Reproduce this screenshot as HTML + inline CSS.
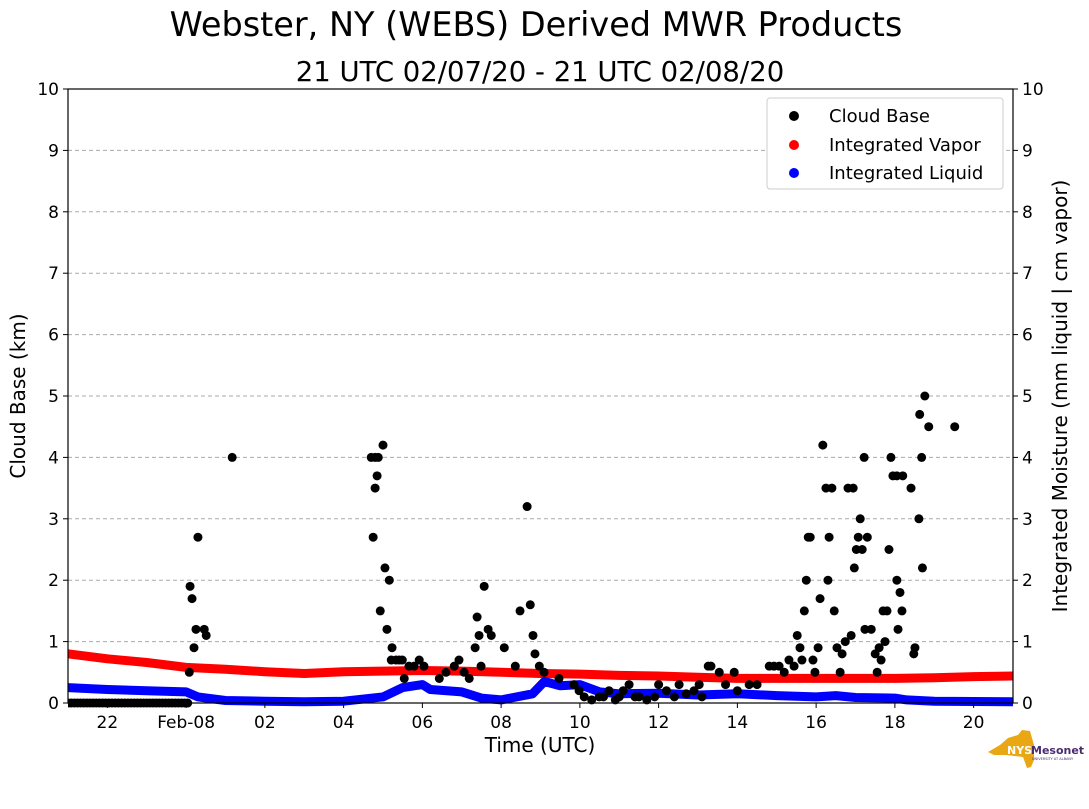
<!DOCTYPE html>
<html><head><meta charset="utf-8">
<style>
body{margin:0;background:#fff;}
svg text{font-family:"DejaVu Sans","Liberation Sans",sans-serif;}
</style></head>
<body>
<svg id="chart" width="1089" height="804" viewBox="0 0 1089 804" xmlns="http://www.w3.org/2000/svg">
<defs><clipPath id="plotclip"><rect x="68" y="89" width="945" height="620"/></clipPath></defs>
<text x="536" y="36" font-size="33.5" text-anchor="middle">Webster, NY (WEBS) Derived MWR Products</text>
<text x="540" y="81" font-size="27.5" text-anchor="middle">21 UTC 02/07/20 - 21 UTC 02/08/20</text>
<g id="grid"></g>
<g id="marks" clip-path="url(#plotclip)"></g>
<rect x="68" y="89" width="945" height="614" fill="none" stroke="#000" stroke-width="1.2"/>
<g id="axes"></g>
<text x="0" y="0" transform="translate(25,396) rotate(-90)" font-size="20" text-anchor="middle">Cloud Base (km)</text>
<text x="0" y="0" transform="translate(1067,396) rotate(-90)" font-size="20" text-anchor="middle">Integrated Moisture (mm liquid | cm vapor)</text>
<text x="540" y="752" font-size="20" text-anchor="middle">Time (UTC)</text>
<g>
<rect x="767" y="98" width="236" height="91" rx="3" fill="#fff" stroke="#ccc"/>
<circle cx="794" cy="116" r="5" fill="#000"/>
<text x="829" y="122" font-size="18">Cloud Base</text>
<circle cx="794" cy="145" r="5" fill="#f00"/>
<text x="829" y="151" font-size="18">Integrated Vapor</text>
<circle cx="794" cy="173" r="5" fill="#00f"/>
<text x="829" y="179" font-size="18">Integrated Liquid</text>
</g>
<g>
<path d="M988 752 L1000 745 L1008 738 L1018 735 L1022 730 L1030 731 L1034 745 L1034 760 L1031 767 L1027 768 L1023 757 L1006 755 L994 755 Z" fill="#e8a713"/>
<text x="1007" y="754" font-size="11" font-weight="bold" fill="#fff" font-family="Liberation Sans">NYS</text>
<text x="1031" y="754" font-size="11" font-weight="bold" fill="#4b2c6e" font-family="Liberation Sans">Mesonet</text>
<text x="1032" y="760" font-size="3.5" fill="#4b2c6e">UNIVERSITY AT ALBANY</text>
</g>
</svg>
<script>
// times: hours relative to 00 UTC 02/08 (-3 = 21 UTC 02/07)
const xTickHours=[-2,0,2,4,6,8,10,12,14,16,18,20];
const xTickLabels=["22","Feb-08","02","04","06","08","10","12","14","16","18","20"];
const yTicks=[0,1,2,3,4,5,6,7,8,9,10];
const zeroTimes=[-3,-2.92,-2.84,-2.76,-2.68,-2.6,-2.52,-2.44,-2.36,-2.28,-2.2,-2.12,-2.04,-1.96,-1.88,-1.8,-1.72,-1.64,-1.56,-1.48,-1.4,-1.32,-1.24,-1.16,-1.08,-1.0,-0.92,-0.84,-0.76,-0.68,-0.6,-0.52,-0.44,-0.36,-0.28,-0.2,-0.12,-0.04,0.04];
const zeroBase=zeroTimes.map(()=>0);
const cloudTimes=[0.10,0.15,0.20,0.25,0.30,0.08,0.46,0.51,1.17,4.70,4.80,4.88,4.75,4.80,4.85,4.93,5.00,5.05,5.10,5.16,5.23,5.21,5.33,5.41,5.49,5.54,5.66,5.79,5.92,6.04,
6.43,6.60,6.81,6.93,7.06,7.19,7.34,7.39,7.44,7.49,7.57,7.67,7.75,8.08,8.36,8.48,8.66,8.74,8.81,8.86,8.97,9.09,9.47,9.85,9.98,10.11,10.49,10.74,11.0,11.25,11.5,12.0,12.52,13.03,13.26,13.33,13.54,13.92,14.3,
10.3,10.6,10.9,11.1,11.4,11.7,11.9,12.2,12.4,12.7,12.9,13.1,13.7,14.0,14.5,
14.81,14.93,15.06,15.19,15.31,15.44,15.52,15.59,15.64,15.70,15.75,15.80,15.85,15.92,15.97,16.05,16.10,16.17,16.25,16.30,16.33,16.40,16.46,16.53,16.61,16.66,16.74,16.81,16.89,16.94,16.97,17.02,17.07,17.12,17.17,17.22,17.24,17.30,17.40,17.50,17.55,17.60,17.65,17.70,17.75,17.80,17.85,17.90,17.95,18.05,18.05,18.08,18.13,18.18,18.20,18.41,18.48,18.51,18.61,18.63,18.68,18.70,18.76,18.86,19.52];
const cloudBase=[1.9,1.7,0.9,1.2,2.7,0.5,1.2,1.1,4.0,4.0,4.0,4.0,2.7,3.5,3.7,1.5,4.2,2.2,1.2,2.0,0.9,0.7,0.7,0.7,0.7,0.4,0.6,0.6,0.7,0.6,
0.4,0.5,0.6,0.7,0.5,0.4,0.9,1.4,1.1,0.6,1.9,1.2,1.1,0.9,0.6,1.5,3.2,1.6,1.1,0.8,0.6,0.5,0.4,0.3,0.2,0.1,0.1,0.2,0.1,0.3,0.1,0.3,0.3,0.3,0.6,0.6,0.5,0.5,0.3,
0.05,0.1,0.05,0.2,0.1,0.05,0.1,0.2,0.1,0.15,0.2,0.1,0.3,0.2,0.3,
0.6,0.6,0.6,0.5,0.7,0.6,1.1,0.9,0.7,1.5,2.0,2.7,2.7,0.7,0.5,0.9,1.7,4.2,3.5,2.0,2.7,3.5,1.5,0.9,0.5,0.8,1.0,3.5,1.1,3.5,2.2,2.5,2.7,3.0,2.5,4.0,1.2,2.7,1.2,0.8,0.5,0.9,0.7,1.5,1.0,1.5,2.5,4.0,3.7,3.7,2.0,1.2,1.8,1.5,3.7,3.5,0.8,0.9,3.0,4.7,4.0,2.2,5.0,4.5,4.5];
const vaporTimes=[-3,-2,-1,0,1,2,3,4,5,6,7,8,9,10,11,12,13,14,15,16,17,18,19,20,21];
const vapor=[0.80,0.72,0.66,0.58,0.55,0.51,0.48,0.51,0.52,0.53,0.52,0.50,0.48,0.47,0.45,0.44,0.42,0.40,0.40,0.40,0.40,0.40,0.41,0.43,0.44];
const liquidTimes=[-3,-2,-1,0,0.3,1,2,3,4,5,5.5,6,6.2,7,7.5,8,8.8,9.1,9.5,10,10.5,11,12,13,14,15,16,16.5,17,18,18.3,19,21];
const liquid=[0.25,0.22,0.20,0.18,0.10,0.04,0.03,0.02,0.03,0.10,0.25,0.30,0.22,0.18,0.08,0.05,0.15,0.35,0.28,0.30,0.18,0.15,0.16,0.13,0.15,0.12,0.10,0.12,0.09,0.08,0.05,0.03,0.02];

const NS="http://www.w3.org/2000/svg";
const X0=68,X1=1013,Y0=703,Y1=89;
const xs=h=>X0+(h+3)/24*(X1-X0);
const ys=v=>Y0-v/10*(Y0-Y1);
function mk(tag,attrs,parent){const e=document.createElementNS(NS,tag);for(const k in attrs)e.setAttribute(k,attrs[k]);parent.appendChild(e);return e;}
const grid=document.getElementById('grid'),axes=document.getElementById('axes'),marks=document.getElementById('marks');
yTicks.forEach(v=>{
  const y=ys(v);
  if(v>0&&v<10){const g=mk('line',{x1:X0,x2:X1,y1:y,y2:y,stroke:'#aaa','stroke-dasharray':'4,3','stroke-width':1},grid);
  
  }
  mk('line',{x1:X0-5,x2:X0,y1:y,y2:y,stroke:'#000'},axes);
  mk('line',{x1:X1,x2:X1+5,y1:y,y2:y,stroke:'#000'},axes);
  const t=mk('text',{x:X0-9,y:y+6,'font-size':17,'text-anchor':'end'},axes);t.textContent=v;
  
  
  const t2=mk('text',{x:X1+9,y:y+6,'font-size':17},axes);t2.textContent=v;
  
  
});
xTickHours.forEach((h,i)=>{
  const x=xs(h);
  mk('line',{x1:x,x2:x,y1:Y0,y2:Y0+5,stroke:'#000'},axes);
  const t=mk('text',{x:x,y:Y0+25,'font-size':17,'text-anchor':'middle'},axes);t.textContent=xTickLabels[i];
  
  
});
function line(times,vals,color,name){
  const d=times.map((t,i)=>(i?'L':'M')+xs(t).toFixed(1)+' '+ys(vals[i]).toFixed(1)).join(' ');
  const p=mk('path',{d:d,fill:'none',stroke:color,'stroke-width':9,'stroke-linecap':'butt','stroke-linejoin':'round'},marks);
  
  
}
line(vaporTimes,vapor,'#f00','integrated-vapor-series');
line(liquidTimes,liquid,'#00f','integrated-liquid-series');
zeroTimes.forEach((t,i)=>{
  const c=mk('circle',{cx:xs(t),cy:ys(zeroBase[i]),r:4.5,fill:'#000'},marks);
  
  
});
cloudTimes.forEach((t,i)=>{
  const c=mk('circle',{cx:xs(t),cy:ys(cloudBase[i]),r:4.5,fill:'#000'},marks);
  
  
});
</script>
</body></html>
